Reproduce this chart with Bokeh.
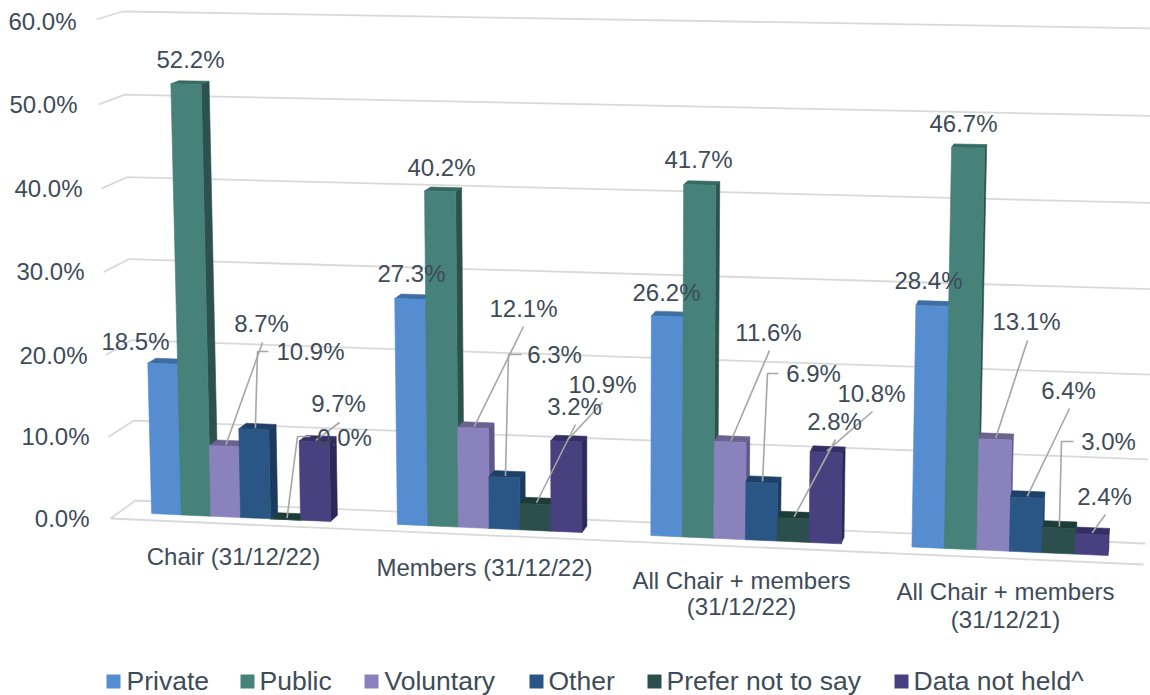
from bokeh.plotting import figure
from bokeh.models import Range1d
from bokeh.core.properties import value
from bokeh.embed import file_html
from bokeh.resources import INLINE

series = ["Private", "Public", "Voluntary", "Other", "Prefer not to say", "Data not held^"]
chair_2022 = [18.5, 52.2, 8.7, 10.9, 0.0, 9.7]
members_2022 = [27.3, 40.2, 12.1, 6.3, 3.2, 10.9]
all_2022 = [26.2, 41.7, 11.6, 6.9, 2.8, 10.8]
all_2021 = [28.4, 46.7, 13.1, 6.4, 3.0, 2.4]
groups = [chair_2022, members_2022, all_2022, all_2021]
y_ticks = [0, 10, 20, 30, 40, 50, 60]
y_labels = ["0.0%", "10.0%", "20.0%", "30.0%", "40.0%", "50.0%", "60.0%"]

front_col = ["#558DD0", "#46827A", "#8A82BD", "#2A5686", "#2A4F4C", "#48407F"]
top_col = ["#3F6EA3", "#376A62", "#6B638F", "#1C4068", "#1D3C39", "#352F66"]
side_col = ["#3C6897", "#2D524E", "#5F5887", "#1B3A5E", "#1A3633", "#2C2858"]
grid_col = "#D9D9D9"
text_col = "#3E4B59"
lead_col = "#A6A6A6"
FONT = "Liberation Sans"

# Corners of the 3D box in page pixels: (u, value, depth)
FL0, FR0, FL60, FR60 = (110, 518), (1143, 564), (96, 19), (1158, 36)
BL0, BR0, BL60, BR60 = (135, 500), (1145, 543), (122, 11), (1160, 28)
D1, D2 = 0.35, 0.68
PITCH = 8.2
PAD = 1.1


def proj(u, v, d):
    t = v / 60
    f = t - 0.025 * t * (1 - t)
    g = u - 0.06 * u * (1 - u)
    out = []
    for k in (0, 1):
        f0 = FL0[k] + (FR0[k] - FL0[k]) * g
        f6 = FL60[k] + (FR60[k] - FL60[k]) * g
        b0 = BL0[k] + (BR0[k] - BL0[k]) * g
        b6 = BL60[k] + (BR60[k] - BL60[k]) * g
        fr = f0 + (f6 - f0) * f
        bk = b0 + (b6 - b0) * f
        out.append(fr + (bk - fr) * d)
    return out


def bar_u(g, i):
    return (g + (PAD + i) / PITCH) / 4


def poly(pts):
    return [p[0] for p in pts], [p[1] for p in pts]


p = figure(width=1150, height=695, x_range=Range1d(0, 1150), y_range=Range1d(695, 0),
           output_backend="svg", toolbar_location=None, min_border=0)
p.xaxis.visible = False
p.yaxis.visible = False
p.grid.visible = False
p.outline_line_color = None

# grid
for v in y_ticks:
    a, b = proj(0, v, 0), proj(0, v, 1)
    c = proj(1, v, 1)
    xs, ys = poly([a, b, c])
    p.line(xs, ys, line_color=grid_col, line_width=1.8)
xs, ys = poly([proj(0, 0, 0), proj(1, 0, 0)])
p.line(xs, ys, line_color=grid_col, line_width=1.8)

# bars
for g, vals in enumerate(groups):
    for i, v in enumerate(vals):
        u0, u1 = bar_u(g, i), bar_u(g, i + 1)
        side = [proj(u1, 0, D1), proj(u1, 0, D2), proj(u1, v, D2), proj(u1, v, D1)]
        top = [proj(u0, v, D1), proj(u1, v, D1), proj(u1, v, D2), proj(u0, v, D2)]
        front = [proj(u0, 0, D1), proj(u1, 0, D1), proj(u1, v, D1), proj(u0, v, D1)]
        for pts, col in ((side, side_col[i]), (top, top_col[i]), (front, front_col[i])):
            xs, ys = poly(pts)
            p.patch(xs, ys, fill_color=col, line_color=col, line_width=0.6)

# leader lines: group, series, label-side path (page px)
leaders = [
    (0, 2, [(262, 342)]), (0, 3, [(268, 351), (257, 351)]),
    (0, 5, [(339, 422)]), (0, 4, [(310, 436), (297, 436)]),
    (1, 2, [(523, 326)]), (1, 3, [(521, 354), (508, 354)]),
    (1, 5, [(602, 402)]), (1, 4, [(575, 424)]),
    (2, 2, [(769, 350)]), (2, 3, [(778, 373), (767, 373)]),
    (2, 5, [(872, 411)]), (2, 4, [(835, 439)]),
    (3, 2, [(1027, 340)]), (3, 3, [(1069, 408)]),
    (3, 4, [(1073, 441), (1061, 441)]), (3, 5, [(1105, 514)]),
]
for g, i, path in leaders:
    end = proj((bar_u(g, i) + bar_u(g, i + 1)) / 2, groups[g][i], 0.42)
    xs, ys = poly(path + [end])
    p.line(xs, ys, line_color=lead_col, line_width=1.6)

# data labels: centre of each label in page px
label_pos = [
    [(135, 341), (190, 59), (261, 323), (310, 351), (344, 437), (338, 403)],
    [(411, 273), (441, 167), (523, 308), (554, 354), (574, 406), (602, 384)],
    [(666, 292), (698, 159), (768, 332), (813, 373), (834, 421), (871, 393)],
    [(928, 280), (963, 123), (1026, 321), (1068, 390), (1108, 441), (1104, 496)],
]
for vals, pos in zip(groups, label_pos):
    p.text([q[0] for q in pos], [q[1] for q in pos], text=[f"{v:.1f}%" for v in vals],
           text_font=value(FONT), text_font_size="24px", text_color=text_col,
           text_align="center", text_baseline="middle")

# y tick labels
tick_x = [89, 89, 87, 84, 82, 77, 76]
tick_y = [518, 436, 355, 271, 188, 104, 21]
p.text(tick_x, tick_y, text=y_labels, text_font=value(FONT), text_font_size="24px",
       text_color=text_col, text_align="right", text_baseline="middle")

# category labels
cat_text = ["Chair (31/12/22)", "Members (31/12/22)", "All Chair + members", "(31/12/22)",
            "All Chair + members", "(31/12/21)"]
cat_x = [233, 484, 741, 741, 1005, 1005]
cat_y = [556, 567, 580, 606, 591, 619]
p.text(cat_x, cat_y, text=cat_text, text_font=value(FONT), text_font_size="24px",
       text_color=text_col, text_align="center", text_baseline="middle")

# legend
leg_sq = [106, 240, 364, 529, 647, 894]
leg_tx = [126, 259, 384, 548, 666, 913]
p.quad(left=leg_sq, right=[x + 14 for x in leg_sq], top=[674] * 6, bottom=[688] * 6,
       fill_color=front_col, line_color=None)
p.text(leg_tx, [680] * 6, text=series, text_font=value(FONT), text_font_size="26.5px",
       text_color=text_col, text_align="left", text_baseline="middle")

open("out.html", "w").write(file_html(p, INLINE))
